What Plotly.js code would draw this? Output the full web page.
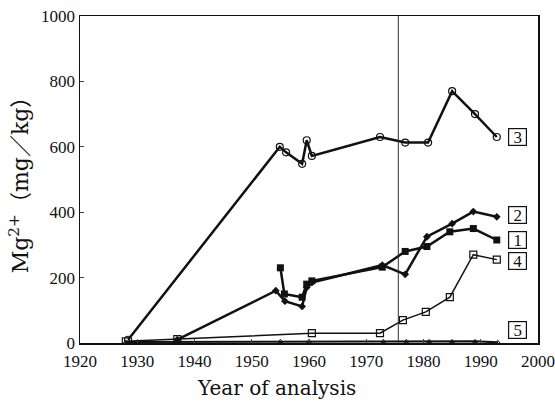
<!DOCTYPE html>
<html>
<head>
<meta charset="utf-8">
<script src="https://cdn.plot.ly/plotly-3.0.1.min.js"></script>
<style>html,body{margin:0;padding:0;background:#fff;}#chart{width:555px;height:401px;}</style>
</head>
<body>
<div id="chart"></div>
<script>
// Series 1 (filled squares)
const years1 = [1955, 1955.7, 1958.8, 1959.6, 1960.5, 1972.8, 1976.8, 1980.6, 1984.6, 1988.7, 1992.8];
const vals1  = [230, 150, 140, 180, 190, 232, 280, 295, 340, 350, 315];
// Series 2 (filled diamonds)
const years2 = [1937, 1954.2, 1955.8, 1958.8, 1959.6, 1960.5, 1972.8, 1976.8, 1980.6, 1985, 1988.7, 1992.8];
const vals2  = [10, 160, 128, 112, 170, 185, 238, 210, 325, 365, 402, 386];
// Series 3 (open circles)
const years3 = [1928.4, 1954.9, 1956, 1958.8, 1959.6, 1960.5, 1972.4, 1976.8, 1980.8, 1985, 1989, 1992.8];
const vals3  = [10, 600, 583, 548, 620, 572, 630, 613, 613, 770, 700, 630];
// Series 4 (open squares)
const years4 = [1928, 1937, 1960.5, 1972.4, 1976.4, 1980.4, 1984.6, 1988.7, 1992.8];
const vals4  = [5, 12, 30, 30, 70, 95, 140, 270, 255];
// Series 5 (small triangles)
const years5 = [1928, 1937, 1955, 1960, 1973, 1977, 1981, 1985, 1989, 1993];
const vals5  = [3, 3, 5, 5, 5, 5, 5, 5, 5, 2];
// Series labels and label values (y positions)
const seriesLabels = ['1', '2', '3', '4', '5'];
const labelVals = [315, 392, 630, 250, 40];
const markerYear = 1975.6;
const xTicks = [1920, 1930, 1940, 1950, 1960, 1970, 1980, 1990, 2000];
const yTicks = [0, 200, 400, 600, 800, 1000];

const serif = 'Liberation Serif, DejaVu Serif, serif';
const wideSerif = 'DejaVu Serif, Liberation Serif, Noto Sans CJK JP, serif';
const traces = [
  {x: years3, y: vals3, mode: 'lines+markers', line: {color: '#111', width: 2.5},
   marker: {symbol: 'circle-open', size: 7, color: '#111', line: {width: 1.2}}},
  {x: years2, y: vals2, mode: 'lines+markers', line: {color: '#111', width: 2.5},
   marker: {symbol: 'diamond', size: 6, color: '#111'}},
  {x: years1, y: vals1, mode: 'lines+markers', line: {color: '#111', width: 2.5},
   marker: {symbol: 'square', size: 7, color: '#111'}},
  {x: years4, y: vals4, mode: 'lines+markers', line: {color: '#111', width: 1.5},
   marker: {symbol: 'square-open', size: 7, color: '#111', line: {width: 1.2}}},
  {x: years5, y: vals5, mode: 'lines+markers', line: {color: '#111', width: 2},
   marker: {symbol: 'triangle-up-open', size: 4, color: '#111'}},
  {x: [markerYear, markerYear], y: [0, 1000], mode: 'lines', line: {color: '#333', width: 1}}
];

const annotations = seriesLabels.map((t, i) => ({
  x: 1996.4, y: labelVals[i], xref: 'x', yref: 'y', text: t, showarrow: false,
  font: {family: serif, size: 17, color: '#111'}, width: 15, height: 14,
  bordercolor: '#111', borderwidth: 1.2, borderpad: 1, bgcolor: '#fff'
}));
annotations.push({
  x: 276, y: 388, xref: 'paper', yref: 'paper', text: 'Year of analysis', showarrow: false,
  font: {family: wideSerif, size: 20, color: '#111'}, xanchor: 'center', yanchor: 'middle'
});

const layout = {
  width: 555, height: 401,
  margin: {l: 80, r: 17, t: 16, b: 58},
  paper_bgcolor: '#fff', plot_bgcolor: '#fff',
  showlegend: false,
  font: {family: serif, color: '#111'},
  xaxis: {range: [1920, 2000], tickvals: xTicks, ticks: 'inside', ticklen: 4,
    showgrid: false, zeroline: false, showline: true, mirror: true, linecolor: '#111', linewidth: 1.5,
    tickfont: {family: serif, size: 17, color: '#111'}, ticklabelstandoff: 2},
  yaxis: {range: [0, 1000], tickvals: yTicks, ticks: 'inside', ticklen: 4,
    showgrid: false, zeroline: false, showline: true, mirror: true, linecolor: '#111', linewidth: 1.5,
    tickfont: {family: serif, size: 17, color: '#111'},
    title: {text: 'Mg<sup>2+</sup>（mg／kg）', font: {family: wideSerif, size: 22, color: '#111'}, standoff: 6}},
  annotations: annotations
};
// convert the pixel position of the x title annotation to paper coords
const pw = 555 - 80 - 17, ph = 401 - 16 - 58;
const xa = annotations[annotations.length - 1];
xa.x = (xa.x - 80) / pw;
xa.y = (401 - 58 - xa.y) / ph;

Plotly.newPlot('chart', traces, layout, {displayModeBar: false, staticPlot: true});
</script>
</body>
</html>
